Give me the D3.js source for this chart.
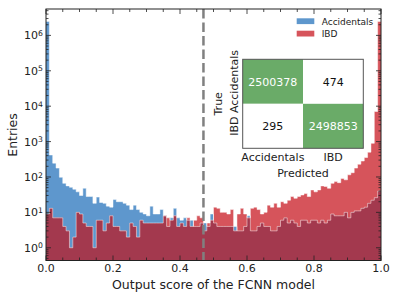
<!DOCTYPE html>
<html><head><meta charset="utf-8">
<script src="https://cdn.jsdelivr.net/npm/d3@7"></script>
<style>body{margin:0;background:#fff}svg{display:block}text{font-family:"DejaVu Sans",sans-serif}</style>
</head><body>
<svg id="c" width="399" height="299"></svg>
<script>
// ---- data ----
const nBins = 100;
const accidentals = [2490000,417,245,178,98,66,56,51,45,38,30,48,28,28,18,27,19,18,15,14,
 23,20,20,18,16,12,16,12,10,9,8,15,9,9,12,8,4,7,13,7,
 6,7,6,6,4,4,5,5,4,9,5,4,4,4,4,4,4,3,3,4,
 8,3,3,4,5,4,4,3,3,4,6,7,5,6,5,4,6,6,5,6,
 6,5,6,5,6,9,8,8,8,10,7,10,11,11,13,14,18,22,26,40];
const ibd = [9,13,7,7,7,4,3,1,2,10,9,5,4,4,1,6,6,3,5,8,
 4,4,3,3,2,5,4,2,6,5,5,5,5,5,5,8,7,6,8,4,
 5,4,7,4,6,8,7,3,5,6,14,13,10,10,9,12,3,9,13,9,
 7,13,14,12,9,10,16,14,18,14,20,18,22,28,25,28,31,34,28,43,
 38,43,56,54,48,66,74,69,91,83,115,132,178,229,282,355,501,891,7080,2480000];
const seriesNames = ["Accidentals","IBD"];
const xTickLabels = ["0.0","0.2","0.4","0.6","0.8","1.0"];
const yTickExponents = [0,1,2,3,4,5,6];
const threshold = 0.47;
const cmValues = [[2500378,474],[295,2498853]];
const cmLabels = ["Accidentals","IBD"];

// ---- styles ----
const C_BLUE = "#5e97cd", C_RED = "#d6545b", C_DARK = "#a3394e", C_GREEN = "#6aab68";

const svg = d3.select("#c");
const L = 46, R = 381, T = 9, B = 260.5;
const x = d3.scaleLinear().domain([0,1]).range([L,R]);
const y = d3.scaleLog().domain([Math.pow(10,-0.36), Math.pow(10,6.746)]).range([B,T]);

const clip = svg.append("clipPath").attr("id","pc").append("rect")
  .attr("x",L).attr("y",T).attr("width",R-L).attr("height",B-T);
const g = svg.append("g").attr("clip-path","url(#pc)");

function stepPts(vals){
  const pts=[];
  vals.forEach((v,i)=>{ pts.push([i/nBins,v]); pts.push([(i+1)/nBins,v]); });
  return pts;
}
const area = d3.area().x(d=>x(d[0])).y0(B+2).y1(d=>y(d[1]));
const line = d3.line().x(d=>x(d[0])).y(d=>y(d[1]));
const overlap = accidentals.map((v,i)=>Math.min(v, ibd[i]));

g.append("path").attr("d",area(stepPts(accidentals))).attr("fill",C_BLUE);
g.append("path").attr("d",area(stepPts(ibd))).attr("fill",C_RED);
g.append("path").attr("d",area(stepPts(overlap))).attr("fill",C_DARK);
g.append("path").attr("d",line(stepPts(accidentals))).attr("fill","none").attr("stroke","#fff").attr("stroke-opacity",0.6).attr("stroke-width",0.8);
g.append("path").attr("d",line(stepPts(ibd))).attr("fill","none").attr("stroke","#fff").attr("stroke-opacity",0.6).attr("stroke-width",0.8);

// threshold line
svg.append("line").attr("x1",x(threshold)).attr("x2",x(threshold)).attr("y1",T).attr("y2",B)
  .attr("stroke","#808080").attr("stroke-width",2.5).attr("stroke-dasharray","9.5,4");

// frame
svg.append("rect").attr("x",L).attr("y",T).attr("width",R-L).attr("height",B-T)
  .attr("fill","none").attr("stroke","#222").attr("stroke-width",1);

// ticks
const tk = svg.append("g").attr("stroke","#222").attr("stroke-width",0.8);
d3.range(0,21).forEach(k=>{
  const v=k*0.05, xx=x(v), len=(k%4===0)?5:3;
  tk.append("line").attr("x1",xx).attr("x2",xx).attr("y1",B).attr("y2",B-len);
  tk.append("line").attr("x1",xx).attr("x2",xx).attr("y1",T).attr("y2",T+len);
});
const [ymin,ymax]=y.domain();
for(let e=-1;e<=6;e++){
  for(let m=1;m<=9;m++){
    const v=m*Math.pow(10,e);
    if(v<ymin||v>ymax) continue;
    const yy=y(v), len=(m===1)?5:2.5;
    tk.append("line").attr("x1",L).attr("x2",L+len).attr("y1",yy).attr("y2",yy);
    tk.append("line").attr("x1",R).attr("x2",R-len).attr("y1",yy).attr("y2",yy);
  }
}
// tick labels
xTickLabels.forEach(t=>{
  svg.append("text").attr("x",x(+t)).attr("y",272).attr("text-anchor","middle")
    .attr("font-size",11).attr("fill","#222").text(t);
});
yTickExponents.forEach(e=>{
  const t=svg.append("text").attr("x",43).attr("y",y(Math.pow(10,e))+4).attr("text-anchor","end")
    .attr("font-size",11).attr("fill","#222");
  t.append("tspan").text("10");
  t.append("tspan").attr("dy","-0.45em").attr("font-size",7.7).text(e);
});
// axis labels
svg.append("text").attr("x",(L+R)/2).attr("y",289).attr("text-anchor","middle")
  .attr("font-size",12.5).attr("fill","#222").text("Output score of the FCNN model");
svg.append("text").attr("transform","translate(16.5,135) rotate(-90)").attr("text-anchor","middle")
  .attr("font-size",12.5).attr("fill","#222").text("Entries");

// legend
const lg = svg.append("g");
[[C_BLUE,seriesNames[0],18.3],[C_RED,seriesNames[1],30.7]].forEach(([c,n,yy])=>{
  lg.append("rect").attr("x",296.7).attr("y",yy).attr("width",17.6).attr("height",5.8).attr("fill",c);
  lg.append("text").attr("x",321.7).attr("y",yy+6.2).attr("font-size",9).attr("fill","#222").text(n);
});

// confusion matrix inset
const cx = d3.scaleBand().domain([0,1]).range([242.7,363.3]);
const cy = d3.scaleBand().domain([0,1]).range([59.3,148.3]);
const cm = svg.append("g");
cmValues.forEach((row,i)=>row.forEach((v,j)=>{
  const diag = i===j;
  cm.append("rect").attr("x",cx(j)).attr("y",cy(i)).attr("width",cx.bandwidth()).attr("height",cy.bandwidth())
    .attr("fill",diag?C_GREEN:"#fff");
  cm.append("text").attr("x",cx(j)+cx.bandwidth()/2).attr("y",cy(i)+cy.bandwidth()/2+4)
    .attr("text-anchor","middle").attr("font-size",11).attr("fill",diag?"#fff":"#111").text(v);
}));
cm.append("rect").attr("x",242.7).attr("y",59.3).attr("width",363.3-242.7).attr("height",148.3-59.3)
  .attr("fill","none").attr("stroke","#555").attr("stroke-width",1);
cmLabels.forEach((l,j)=>{
  cm.append("text").attr("x",cx(j)+cx.bandwidth()/2).attr("y",160.5).attr("text-anchor","middle")
    .attr("font-size",11).attr("fill","#222").text(l);
  cm.append("text").attr("transform",`translate(238,${cy(j)+cy.bandwidth()/2}) rotate(-90)`).attr("text-anchor","middle")
    .attr("font-size",11).attr("fill","#222").text(l);
});
cm.append("text").attr("x",303).attr("y",177).attr("text-anchor","middle").attr("font-size",11).attr("fill","#222").text("Predicted");
cm.append("text").attr("transform","translate(221.5,103.8) rotate(-90)").attr("text-anchor","middle")
  .attr("font-size",11).attr("fill","#222").text("True");
</script>
</body></html>
